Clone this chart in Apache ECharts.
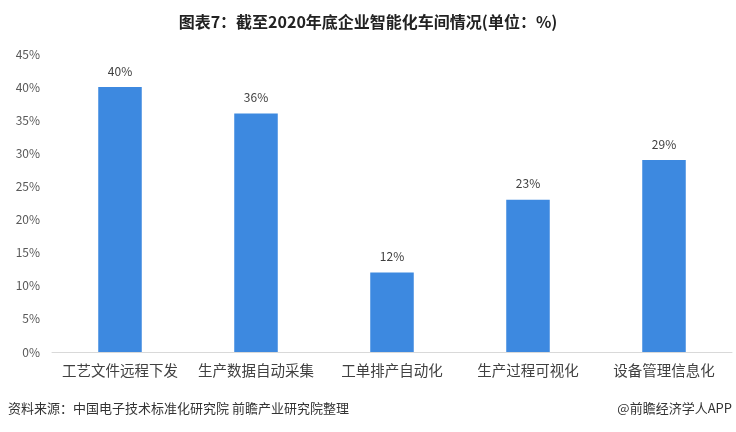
<!DOCTYPE html>
<html><head><meta charset="utf-8">
<script src="https://cdn.jsdelivr.net/npm/echarts@6/dist/echarts.min.js"></script>
<style>html,body{margin:0;padding:0;background:#fff}#c{width:736px;height:432px}</style>
</head><body><div id="c"></div>
<script>
const categories = ['工艺文件远程下发','生产数据自动采集','工单排产自动化','生产过程可视化','设备管理信息化'];
const values = [40, 36, 12, 23, 29];
const titleText = '图表7：截至2020年底企业智能化车间情况(单位：%)';
const sourceText = '资料来源：中国电子技术标准化研究院 前瞻产业研究院整理';
const brandText = '@前瞻经济学人APP';
const font = '"Microsoft YaHei","Noto Sans CJK SC",sans-serif';
const chart = echarts.init(document.getElementById('c'));
chart.setOption({
  animation: false,
  title: { text: titleText, left: 'center', top: 9, textStyle: { fontSize: 16, fontWeight: 'bold', color: '#222', fontFamily: font } },
  graphic: [
    { type: 'text', left: 8, top: 402, style: { text: sourceText, fontSize: 13, fill: '#333', fontFamily: font } },
    { type: 'text', right: 4, top: 402, style: { text: brandText, fontSize: 13, fill: '#333', fontFamily: font } }
  ],
  grid: { left: 52, right: 4, top: 54, bottom: 80 },
  xAxis: {
    type: 'category', data: categories,
    axisLine: { lineStyle: { color: '#d9d9d9' } },
    axisTick: { show: false },
    axisLabel: { interval: 0, fontSize: 14.5, color: '#404040', margin: 11, fontFamily: font }
  },
  yAxis: {
    type: 'value', min: 0, max: 45, interval: 5,
    axisLabel: { formatter: '{value}%', fontSize: 12, color: '#595959', margin: 12, fontFamily: font },
    axisLine: { show: false }, axisTick: { show: false }, splitLine: { show: false }
  },
  series: [{
    type: 'bar', data: values, barWidth: '32%',
    itemStyle: { color: '#3D89E0' },
    label: { show: true, position: 'top', formatter: '{c}%', fontSize: 12, color: '#404040', distance: 10, fontFamily: font }
  }]
});
</script></body></html>
